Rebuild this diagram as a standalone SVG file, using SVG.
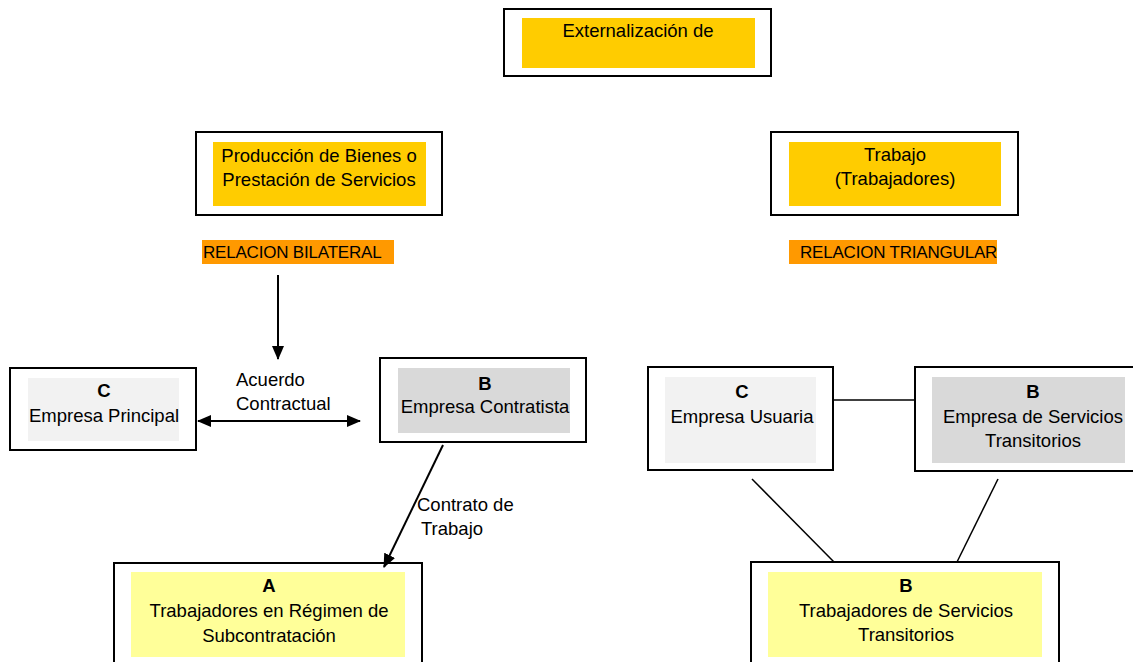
<svg xmlns="http://www.w3.org/2000/svg" width="1133" height="662" viewBox="0 0 1133 662">
<style>
text{font-family:"Liberation Sans",Arial,sans-serif;font-size:18.5px;fill:#000}
.c{text-anchor:middle}
.b{font-weight:bold}
.o{font-size:17px;letter-spacing:-0.2px}
.box{fill:#fff;stroke:#000;stroke-width:2}
.y1{fill:#ffcc00}
.y2{fill:#ffff99}
.g1{fill:#f2f2f2}
.g2{fill:#d9d9d9}
.or{fill:#ff9900}
.ln{stroke:#000;stroke-width:1.5;fill:none}
.ar{stroke:#000;stroke-width:2;fill:none}
</style>
<defs>
<marker id="ah2" markerWidth="14" markerHeight="12" refX="13" refY="6" orient="auto-start-reverse" markerUnits="userSpaceOnUse"><path d="M0,0 L14,6 L0,12 Z" fill="#000"/></marker>
</defs>

<g id="top">
<rect class="box" x="504" y="9" width="267" height="67"/>
<rect class="y1" x="522" y="18" width="233" height="50"/>
<text class="c" x="638" y="37">Externalización de</text>
</g>

<g id="produccion">
<rect class="box" x="196" y="132" width="246" height="83"/>
<rect class="y1" x="213" y="142" width="213" height="64"/>
<text class="c" x="319" y="162">Producción de Bienes o</text>
<text class="c" x="319" y="186">Prestación de Servicios</text>
</g>

<g id="trabajo">
<rect class="box" x="771" y="132" width="247" height="83"/>
<rect class="y1" x="789" y="142" width="212" height="64"/>
<text class="c" x="895" y="161">Trabajo</text>
<text class="c" x="895" y="185">(Trabajadores)</text>
</g>

<g id="rel-bilateral">
<rect class="or" x="202" y="240" width="192" height="24"/>
<text class="o" x="203" y="258">RELACION BILATERAL</text>
</g>

<g id="rel-triangular">
<rect class="or" x="789" y="240" width="208" height="24"/>
<text class="o" x="800" y="258">RELACION TRIANGULAR</text>
</g>

<g id="empresa-principal">
<rect class="box" x="10" y="368" width="186" height="82"/>
<rect class="g1" x="28" y="378" width="151" height="63"/>
<text class="c b" x="104" y="397">C</text>
<text class="c" x="104" y="422">Empresa Principal</text>
</g>

<g id="empresa-contratista">
<rect class="box" x="380" y="358" width="206" height="84"/>
<rect class="g2" x="398" y="368" width="172" height="65"/>
<text class="c b" x="485" y="390">B</text>
<text class="c" x="485" y="413">Empresa Contratista</text>
</g>

<g id="trabajadores-subcontratacion">
<rect class="box" x="114" y="563" width="308" height="110"/>
<rect class="y2" x="131" y="572" width="274" height="85"/>
<text class="c b" x="269" y="592">A</text>
<text class="c" x="269" y="617">Trabajadores en Régimen de</text>
<text class="c" x="269" y="642">Subcontratación</text>
</g>

<g id="empresa-usuaria">
<rect class="box" x="648" y="367" width="185" height="103"/>
<rect class="g1" x="665" y="377" width="151" height="86"/>
<text class="c b" x="742" y="398">C</text>
<text class="c" x="742" y="423">Empresa Usuaria</text>
</g>

<g id="empresa-servicios">
<rect class="box" x="915" y="367" width="230" height="104"/>
<rect class="g2" x="932" y="377" width="193" height="86"/>
<text class="c b" x="1033" y="398">B</text>
<text class="c" x="1033" y="423">Empresa de Servicios</text>
<text class="c" x="1033" y="447">Transitorios</text>
</g>

<g id="trabajadores-transitorios">
<rect class="box" x="751" y="562" width="308" height="110"/>
<rect class="y2" x="768" y="572" width="274" height="85"/>
<text class="c b" x="906" y="592">B</text>
<text class="c" x="906" y="617">Trabajadores de Servicios</text>
<text class="c" x="906" y="641">Transitorios</text>
</g>

<g id="connectors">
<line class="ar" x1="278" y1="275" x2="278" y2="359" marker-end="url(#ah2)"/>
<line class="ar" x1="198" y1="421" x2="360" y2="421" marker-start="url(#ah2)" marker-end="url(#ah2)"/>
<line class="ar" x1="443" y1="445" x2="384" y2="567" marker-end="url(#ah2)"/>
<line class="ln" x1="833" y1="400" x2="915" y2="400"/>
<line class="ln" x1="752" y1="479" x2="834" y2="562"/>
<line class="ln" x1="998" y1="479" x2="957" y2="562"/>
</g>

<g id="labels">
<text x="236" y="386">Acuerdo</text>
<text x="236" y="410">Contractual</text>
<text x="417" y="511">Contrato de</text>
<text x="421" y="535">Trabajo</text>
</g>
</svg>
